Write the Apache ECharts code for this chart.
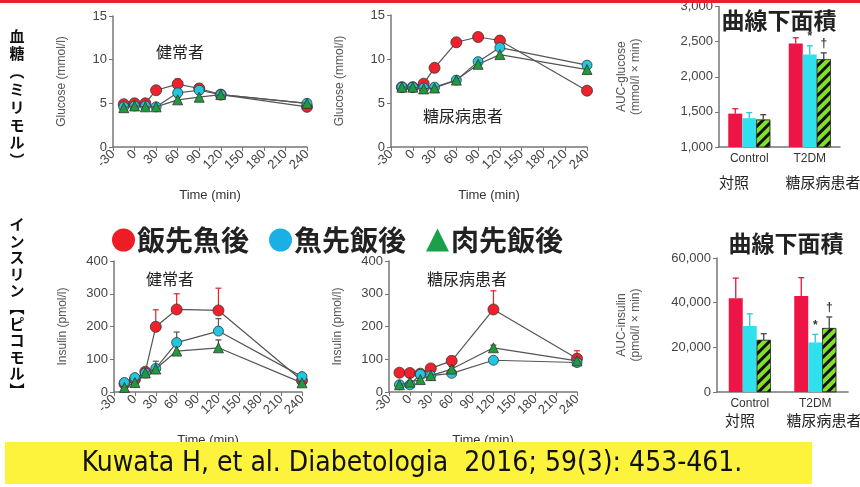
<!DOCTYPE html>
<html lang="ja">
<head>
<meta charset="UTF-8">
<title>Kuwata H, et al. Diabetologia 2016</title>
<script src="https://cdn.jsdelivr.net/npm/echarts@6/dist/echarts.min.js"></script>
<style>
  * { margin: 0; padding: 0; box-sizing: border-box; }
  body { background: #fff; }
  #chart { width: 860px; height: 487px; }
</style>
</head>
<body>
<div id="chart"></div>
<script>
// --- data ---
const groups = ['飯先魚後', '魚先飯後', '肉先飯後'];
const gluTimes = [-15, 0, 15, 30, 60, 90, 120, 240];
const insTimes = [-15, 0, 15, 30, 60, 120, 240];
const aucCategories = ['Control', 'T2DM'];

// glucose (mmol/l)
const gluHealthyRice = [4.9, 5.0, 5.0, 6.5, 7.2, 6.7, 6.0, 4.6];
const gluHealthyFish = [4.6, 4.7, 4.7, 4.6, 6.2, 6.5, 6.0, 5.0];
const gluHealthyMeat = [4.5, 4.7, 4.6, 4.6, 5.4, 5.7, 6.0, 5.0];
const gluHealthyErr = [
  [0.2, 0.2, 0.2, 0.3, 0.6, 0.5, 0.3, 0.3],
  [0.2, 0.2, 0.2, 0.2, 0.4, 0.5, 0.3, 0.3],
  [0.2, 0.2, 0.2, 0.2, 0.3, 0.4, 0.3, 0.3]
];
const gluDiabRice = [6.8, 6.8, 7.2, 9.0, 11.9, 12.5, 12.1, 6.4];
const gluDiabFish = [6.8, 6.8, 6.7, 6.8, 7.6, 9.7, 11.3, 9.3];
const gluDiabMeat = [6.8, 6.8, 6.6, 6.7, 7.6, 9.4, 10.5, 8.8];
const gluDiabErr = [
  [0.2, 0.2, 0.3, 0.4, 0.4, 0.4, 0.5, 0.4],
  [0.2, 0.2, 0.2, 0.2, 0.3, 0.4, 0.5, 0.4],
  [0.2, 0.2, 0.2, 0.2, 0.3, 0.4, 0.5, 0.4]
];

// insulin (pmol/l)
const insHealthyRice = [25, 38, 62, 199, 252, 249, 35];
const insHealthyFish = [29, 44, 58, 72, 151, 186, 47];
const insHealthyMeat = [14, 29, 58, 70, 125, 135, 28];
const insHealthyErr = [
  [3, 4, 8, 52, 48, 68, 5],
  [3, 4, 5, 22, 32, 38, 5],
  [3, 3, 4, 8, 14, 24, 4]
];
const insDiabRice = [59, 58, 56, 72, 95, 252, 102];
const insDiabFish = [22, 22, 54, 50, 57, 97, 90];
const insDiabMeat = [22, 30, 38, 50, 70, 135, 95];
const insDiabErr = [
  [5, 5, 5, 6, 14, 57, 24],
  [3, 3, 4, 4, 5, 8, 6],
  [3, 3, 4, 5, 8, 8, 6]
];

// AUC [Control, T2DM] per group
const aucGluRice = [1475, 2475];
const aucGluFish = [1410, 2315];
const aucGluMeat = [1390, 2250];
const aucGluErr = [[70, 80], [80, 125], [70, 90]];
const aucInsRice = [42000, 43000];
const aucInsFish = [29500, 22200];
const aucInsMeat = [23300, 28600];
const aucInsErr = [[9000, 8200], [5500, 3600], [2800, 5000]];
const aucMarks = [['', ''], ['', '*'], ['', '†']];

const timeLabelFmt = v => String(v);
const commaFmt = v => v.toLocaleString('en-US');

// --- styles ---
const markerColors = ['#f2202a', '#22c6de', '#1f9a3c'];
const errColors = ['#e8202a', '#555', '#444'];
const barColors = ['#ee1446', '#30e0ee', '#80e02a'];
const legendColors = ['#ee1c24', '#1ab0e6', '#19a048'];
const FONT = '"Liberation Sans", Arial, sans-serif';
const JP = '"Noto Sans CJK JP", "Noto Sans CJK SC", sans-serif';
const axisCol = '#777';

const chart = echarts.init(document.getElementById('chart'));

const grids = [
  { left: 113, top: 16, width: 194, height: 131 },
  { left: 391, top: 15, width: 196, height: 132 },
  { left: 719, top: 1, width: 121, height: 146 },
  { left: 114, top: 261, width: 188, height: 131 },
  { left: 389, top: 261, width: 188, height: 131 },
  { left: 717, top: 258, width: 131, height: 134 }
];

const xAxes = [];
const yAxes = [];
const series = [];

function timeAxis(gi) {
  return {
    type: 'value', gridIndex: gi, min: -30, max: 240, interval: 30,
    axisLine: { show: true, onZero: false, lineStyle: { color: axisCol, width: 1.5 } },
    axisTick: { show: true, length: 4, lineStyle: { color: axisCol } },
    axisLabel: { rotate: 45, fontSize: 13, color: '#444', margin: 5, fontFamily: FONT, formatter: timeLabelFmt },
    splitLine: { show: false },
    name: 'Time (min)', nameLocation: 'middle', nameGap: 42,
    nameTextStyle: { fontSize: 13, color: '#333', fontFamily: FONT }
  };
}

function valueAxis(gi, min, max, interval, name, gap, fmt) {
  return {
    type: 'value', gridIndex: gi, min: min, max: max, interval: interval,
    axisLine: { show: true, onZero: false, lineStyle: { color: axisCol, width: 1.5 } },
    axisTick: { show: true, length: 4, lineStyle: { color: axisCol } },
    axisLabel: { fontSize: 13, color: '#444', margin: 6, fontFamily: FONT, formatter: fmt },
    splitLine: { show: false },
    name: name, nameLocation: 'middle', nameGap: gap,
    nameTextStyle: { fontSize: 12, color: '#555', fontFamily: FONT, lineHeight: 14 }
  };
}

function lineErr(color) {
  return function (params, api) {
    const p = api.coord([api.value(0), api.value(1)]);
    const q = api.coord([api.value(0), api.value(1) + api.value(2)]);
    const st = { stroke: color, lineWidth: 1.2 };
    return {
      type: 'group', children: [
        { type: 'line', shape: { x1: p[0], y1: p[1], x2: q[0], y2: q[1] }, style: st },
        { type: 'line', shape: { x1: q[0] - 3, y1: q[1], x2: q[0] + 3, y2: q[1] }, style: st }
      ]
    };
  };
}

function barErr(color, k, marks) {
  return function (params, api) {
    const dx = (k - 1) * 14;
    const p = api.coord([api.value(0), api.value(1)]);
    const q = api.coord([api.value(0), api.value(1) + api.value(2)]);
    const x = p[0] + dx;
    const st = { stroke: color, lineWidth: 1.3 };
    const kids = [
      { type: 'line', shape: { x1: x, y1: p[1], x2: x, y2: q[1] }, style: st },
      { type: 'line', shape: { x1: x - 3, y1: q[1], x2: x + 3, y2: q[1] }, style: st }
    ];
    const m = marks[params.dataIndex];
    if (m) {
      kids.push({ type: 'text', x: x, y: q[1] - 3,
        style: { text: m, fill: '#333', font: 'bold 12px ' + FONT, align: 'center', verticalAlign: 'bottom' } });
    }
    return { type: 'group', children: kids };
  };
}

function linePanel(gi, times, sets, errs, yMin, yMax, yInt, yName) {
  xAxes.push(timeAxis(gi));
  yAxes.push(valueAxis(gi, yMin, yMax, yInt, yName, 44));
  sets.forEach((vals, k) => {
    series.push({
      type: 'custom', xAxisIndex: gi, yAxisIndex: gi, silent: true, z: 2,
      encode: { x: 0, y: 1 },
      data: times.map((t, i) => [t, vals[i], errs[k][i]]),
      renderItem: lineErr(errColors[k])
    });
    series.push({
      name: groups[k], type: 'line', xAxisIndex: gi, yAxisIndex: gi, z: 3 + k,
      data: times.map((t, i) => [t, vals[i]]),
      symbol: k === 2 ? 'triangle' : 'circle',
      symbolSize: k === 0 ? 11 : 10,
      lineStyle: { color: '#555', width: 1.2 },
      itemStyle: { color: markerColors[k], borderColor: '#333', borderWidth: 0.8 },
      emphasis: { disabled: true }
    });
  });
}

function barPanel(gi, sets, errs, yMin, yMax, yInt, yName, gap) {
  xAxes.push({
    type: 'category', gridIndex: gi, data: aucCategories,
    axisLine: { show: true, lineStyle: { color: axisCol, width: 1.5 } },
    axisTick: { show: false },
    axisLabel: { fontSize: 12, color: '#333', margin: 6, fontFamily: FONT }
  });
  yAxes.push(valueAxis(gi, yMin, yMax, yInt, yName, gap, commaFmt));
  sets.forEach((vals, k) => {
    const st = { color: barColors[k] };
    if (k === 2) {
      st.borderColor = '#222';
      st.borderWidth = 0.5;
      st.decal = { symbol: 'rect', symbolSize: 1, dashArrayX: [1, 0], dashArrayY: [3, 4], rotation: -Math.PI / 4, color: '#111' };
    }
    series.push({
      name: 'AUC ' + groups[k], type: 'bar', xAxisIndex: gi, yAxisIndex: gi,
      data: vals, barWidth: 14, barGap: '0%', itemStyle: st, z: 2
    });
    series.push({
      type: 'custom', xAxisIndex: gi, yAxisIndex: gi, silent: true, z: 3,
      encode: { x: 0, y: 1 },
      data: vals.map((v, i) => [i, v, errs[k][i]]),
      renderItem: barErr(k === 0 ? '#e8163c' : (k === 1 ? '#25c8dc' : '#444'), k, aucMarks[k])
    });
  });
}

linePanel(0, gluTimes, [gluHealthyRice, gluHealthyFish, gluHealthyMeat], gluHealthyErr, 0, 15, 5, 'Glucose (mmol/l)');
linePanel(1, gluTimes, [gluDiabRice, gluDiabFish, gluDiabMeat], gluDiabErr, 0, 15, 5, 'Glucose (mmol/l)');
barPanel(2, [aucGluRice, aucGluFish, aucGluMeat], aucGluErr, 1000, 3000, 500, 'AUC-glucose\n(mmol/l × min)', 76);
linePanel(3, insTimes, [insHealthyRice, insHealthyFish, insHealthyMeat], insHealthyErr, 0, 400, 100, 'Insulin (pmol/l)');
linePanel(4, insTimes, [insDiabRice, insDiabFish, insDiabMeat], insDiabErr, 0, 400, 100, 'Insulin (pmol/l)');
barPanel(5, [aucInsRice, aucInsFish, aucInsMeat], aucInsErr, 0, 60000, 20000, 'AUC-insulin\n(pmol/l × min)', 74);

function jpText(x, y, text, size, weight) {
  return { type: 'text', x: x, y: y, z: 20,
    style: { text: text, fill: '#222', font: (weight || 'normal') + ' ' + size + 'px ' + JP, align: 'center', verticalAlign: 'middle' } };
}

const graphics = [
  { type: 'rect', shape: { x: 0, y: 0, width: 860, height: 3 }, style: { fill: '#e8202a' }, z: 30 },
  { type: 'text', x: 17, y: 27, z: 20,
    style: { text: '血糖︵ミリモル︶'.split('').join('\n'), fill: '#111', font: 'bold 15px ' + JP, lineHeight: 17.8, align: 'center' } },
  { type: 'text', x: 17, y: 216, z: 20,
    style: { text: 'インスリン︻ピコモル︼'.split('').join('\n'), fill: '#111', font: 'bold 15px ' + JP, lineHeight: 16.6, align: 'center' } },
  jpText(180, 52, '健常者', 16),
  jpText(463, 116, '糖尿病患者', 16),
  jpText(170, 279, '健常者', 16),
  jpText(467, 279, '糖尿病患者', 16),
  jpText(779, 20, '曲線下面積', 23, 'bold'),
  jpText(786, 243, '曲線下面積', 23, 'bold'),
  jpText(734, 182, '対照', 15),
  jpText(823, 182, '糖尿病患者', 15),
  jpText(740, 420, '対照', 15),
  jpText(824, 420, '糖尿病患者', 15),
  { type: 'rect', shape: { x: 5, y: 442, width: 807, height: 42 }, style: { fill: '#fdf33c' }, z: 30 },
  { type: 'text', x: 412, y: 464, z: 31,
    style: { text: 'Kuwata H, et al. Diabetologia  2016; 59(3): 453-461.', fill: '#111',
      font: '28px "Liberation Sans Narrow", "DejaVu Sans Condensed", sans-serif', align: 'center', verticalAlign: 'middle' } }
];

chart.setOption({
  animation: false,
  backgroundColor: '#fff',
  grid: grids,
  xAxis: xAxes,
  yAxis: yAxes,
  legend: {
    left: 107, top: 221, itemWidth: 23, itemHeight: 23, itemGap: 20,
    selectedMode: false,
    itemStyle: { borderWidth: 0 },
    textStyle: { fontSize: 28, fontWeight: 'bold', color: '#222', fontFamily: JP, padding: [0, 0, 0, -3] },
    data: groups.map((g, k) => ({ name: g, icon: k === 2 ? 'triangle' : 'circle', itemStyle: { color: legendColors[k], borderWidth: 0 } }))
  },
  series: series,
  graphic: graphics
});
</script>
</body>
</html>
